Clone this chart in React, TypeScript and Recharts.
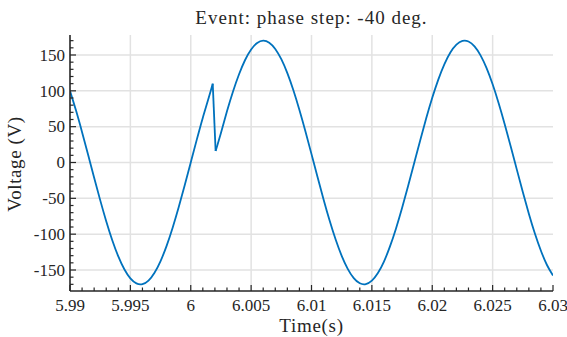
import React from "react";
import { LineChart, Line, XAxis, YAxis, CartesianGrid } from "recharts";

// ---- data ----
const timeBefore: number[] = [
  5.99, 5.9905, 5.991, 5.9915, 5.992, 5.9925, 5.993, 5.9935, 5.994, 5.9945,
  5.995, 5.9955, 5.996, 5.9965, 5.997, 5.9975, 5.998, 5.9985, 5.999, 5.9995,
  6.0, 6.0005, 6.001, 6.0015, 6.00182,
];
const voltageBefore: number[] = [
  99.9, 72.4, 42.3, 10.7, -21.3, -52.5, -81.9, -108.4, -131.0, -149.0,
  -161.7, -168.7, -169.7, -164.7, -153.8, -137.5, -116.4, -91.1, -62.6, -31.9,
  0, 31.9, 62.6, 91.1, 110,
];

const timeStep: number[] = [6.00182, 6.00206];
const voltageStep: number[] = [110, 16];

const timeAfter: number[] = [
  6.00206, 6.0025, 6.003, 6.0035, 6.004, 6.0045, 6.005, 6.0055, 6.006, 6.0065, 6.007,
  6.0075, 6.008, 6.0085, 6.009, 6.0095, 6.01, 6.0105, 6.011, 6.0115, 6.012,
  6.0125, 6.013, 6.0135, 6.014, 6.0145, 6.015, 6.0155, 6.016, 6.0165, 6.017,
  6.0175, 6.018, 6.0185, 6.019, 6.0195, 6.02, 6.0205, 6.021, 6.0215, 6.022,
  6.0225, 6.023, 6.0235, 6.024, 6.0245, 6.025, 6.0255, 6.026, 6.0265, 6.027,
  6.0275, 6.028, 6.0285, 6.029, 6.0295, 6.03,
];
const voltageAfter: number[] = [
  16, 41.2, 71.4, 99.1, 123.1, 143.0, 157.7, 166.8, 170.0, 167.2, 158.5,
  144.1, 124.7, 100.8, 73.3, 43.3, 11.7, -20.2, -51.5, -81.0, -107.5,
  -130.3, -148.4, -161.3, -168.5, -169.7, -164.9, -154.3, -138.2, -117.1, -92.0,
  -63.6, -32.9, -1.1, 30.8, 61.6, 90.2, 115.6, 136.9, 153.4, 164.4,
  169.6, 168.8, 162.0, 149.5, 131.7, 109.2, 82.8, 53.5, 22.4, -9.6,
  -41.2, -71.4, -99.1, -123.1, -143.0, -157.7,
];

const xMajorTicks: number[] = [5.99, 5.995, 6.0, 6.005, 6.01, 6.015, 6.02, 6.025, 6.03];
const xTickLabels: string[] = ["5.99", "5.995", "6", "6.005", "6.01", "6.015", "6.02", "6.025", "6.03"];
const yMajorTicks: number[] = [-150, -100, -50, 0, 50, 100, 150];
const yTickLabels: string[] = ["-150", "-100", "-50", "0", "50", "100", "150"];

const titleText = "Event: phase step: -40 deg.";
const xLabelText = "Time(s)";
const yLabelText = "Voltage (V)";

// minor tick positions (every 0.001 s, every 10 V)
const xAllTicks: number[] = Array.from({ length: 41 }, (_, i) => Math.round((5.99 + i * 0.001) * 100000) / 100000);
const yAllTicks: number[] = Array.from({ length: 35 }, (_, i) => -170 + i * 10);

const toRows = (ts: number[], vs: number[]) => ts.map((t, i) => ({ t, v: vs[i] }));
const dataBefore = toRows(timeBefore, voltageBefore);
const dataStep = toRows(timeStep, voltageStep);
const dataAfter = toRows(timeAfter, voltageAfter);
const allData = [...dataBefore, ...dataAfter];

const FONT = "Liberation Serif, DejaVu Serif, Times New Roman, serif";
const AX = "#262626";
const MAJOR = 6;
const MINOR = 3.5;
const LINE = "#0072BD";

const xMajorIndex = (v: number) => xMajorTicks.findIndex((m) => Math.abs(m - v) < 1e-7);
const yMajorIndex = (v: number) => yMajorTicks.findIndex((m) => Math.abs(m - v) < 1e-7);

const txtStyle = (size: number, ls = 0): React.CSSProperties => ({
  fontFamily: FONT,
  fontSize: size,
  letterSpacing: ls,
  fill: AX,
});

const BottomTick = (props: any) => {
  const { x, y, payload } = props;
  const idx = xMajorIndex(payload.value);
  const len = idx >= 0 ? MAJOR : MINOR;
  return (
    <g>
      <line x1={x} x2={x} y1={y} y2={y - len} stroke={AX} strokeWidth={1.2} />
      {idx >= 0 && (
        <text x={x} y={y + 20.3} textAnchor="middle" style={txtStyle(17)}>
          {xTickLabels[idx]}
        </text>
      )}
    </g>
  );
};

const TopTick = (props: any) => {
  const { x, y, payload } = props;
  const idx = xMajorIndex(payload.value);
  const len = idx >= 0 ? MAJOR : MINOR;
  return <line x1={x} x2={x} y1={y} y2={y + len} stroke={AX} strokeWidth={1.2} />;
};

const LeftTick = (props: any) => {
  const { x, y, payload } = props;
  const idx = yMajorIndex(payload.value);
  const len = idx >= 0 ? MAJOR : MINOR;
  return (
    <g>
      <line x1={x} x2={x + len} y1={y} y2={y} stroke={AX} strokeWidth={1.2} />
      {idx >= 0 && (
        <text x={x - 5} y={y} dy="0.34em" textAnchor="end" style={txtStyle(17)}>
          {yTickLabels[idx]}
        </text>
      )}
    </g>
  );
};

const RightTick = (props: any) => {
  const { x, y, payload } = props;
  const idx = yMajorIndex(payload.value);
  const len = idx >= 0 ? MAJOR : MINOR;
  return <line x1={x} x2={x - len} y1={y} y2={y} stroke={AX} strokeWidth={1.2} />;
};

const axisLine = { stroke: AX, strokeWidth: 1.6 };

export default function App() {
  return (
    <div style={{ position: "absolute", left: 0, top: 0, width: 567, height: 337, background: "#fff" }}>
      <LineChart width={567} height={337} data={allData} margin={{ top: 35, right: 14, bottom: 16, left: 10 }}>
        <CartesianGrid
          xAxisId="b"
          yAxisId="l"
          stroke="#e2e2e2"
          strokeWidth={1.5}
          verticalValues={xMajorTicks.slice(1, -1)}
          horizontalValues={yMajorTicks}
        />
        <XAxis
          xAxisId="b"
          dataKey="t"
          type="number"
          domain={[5.99, 6.03]}
          allowDataOverflow
          ticks={xAllTicks}
          interval={0}
          tickSize={0}
          tickMargin={0}
          tickLine={false}
          axisLine={axisLine}
          tick={BottomTick}
          height={30}
        />
        <XAxis
          xAxisId="t"
          orientation="top"
          dataKey="t"
          type="number"
          domain={[5.99, 6.03]}
          allowDataOverflow
          ticks={xAllTicks}
          interval={0}
          tickSize={0}
          tickMargin={0}
          tickLine={false}
          axisLine={axisLine}
          tick={TopTick}
          height={0}
        />
        <YAxis
          yAxisId="l"
          type="number"
          domain={[-179.3, 177.9]}
          allowDataOverflow
          ticks={yAllTicks}
          interval={0}
          tickSize={0}
          tickMargin={0}
          tickLine={false}
          axisLine={axisLine}
          tick={LeftTick}
          width={60}
        />
        <YAxis
          yAxisId="r"
          orientation="right"
          type="number"
          domain={[-179.3, 177.9]}
          allowDataOverflow
          ticks={yAllTicks}
          interval={0}
          tickSize={0}
          tickMargin={0}
          tickLine={false}
          axisLine={axisLine}
          tick={RightTick}
          width={0}
        />
        <Line
          xAxisId="b"
          yAxisId="l"
          data={dataBefore}
          dataKey="v"
          type="natural"
          stroke={LINE}
          strokeWidth={1.8}
          dot={false}
          isAnimationActive={false}
        />
        <Line
          xAxisId="b"
          yAxisId="l"
          data={dataStep}
          dataKey="v"
          type="linear"
          stroke={LINE}
          strokeWidth={1.8}
          strokeLinejoin="round"
          dot={false}
          isAnimationActive={false}
        />
        <Line
          xAxisId="b"
          yAxisId="l"
          data={dataAfter}
          dataKey="v"
          type="natural"
          stroke={LINE}
          strokeWidth={1.8}
          dot={false}
          isAnimationActive={false}
        />
      </LineChart>
      <svg
        width={567}
        height={337}
        style={{ position: "absolute", left: 0, top: 0, pointerEvents: "none" }}
      >
        <text x={311.5} y={24} textAnchor="middle" style={txtStyle(19, 1)}>
          {titleText}
        </text>
        <text x={311.5} y={331.5} textAnchor="middle" style={txtStyle(19, 0.7)}>
          {xLabelText}
        </text>
        <text
          x={21}
          y={164}
          textAnchor="middle"
          style={txtStyle(19, 0.6)}
          transform="rotate(-90 21 164)"
        >
          {yLabelText}
        </text>
      </svg>
    </div>
  );
}
